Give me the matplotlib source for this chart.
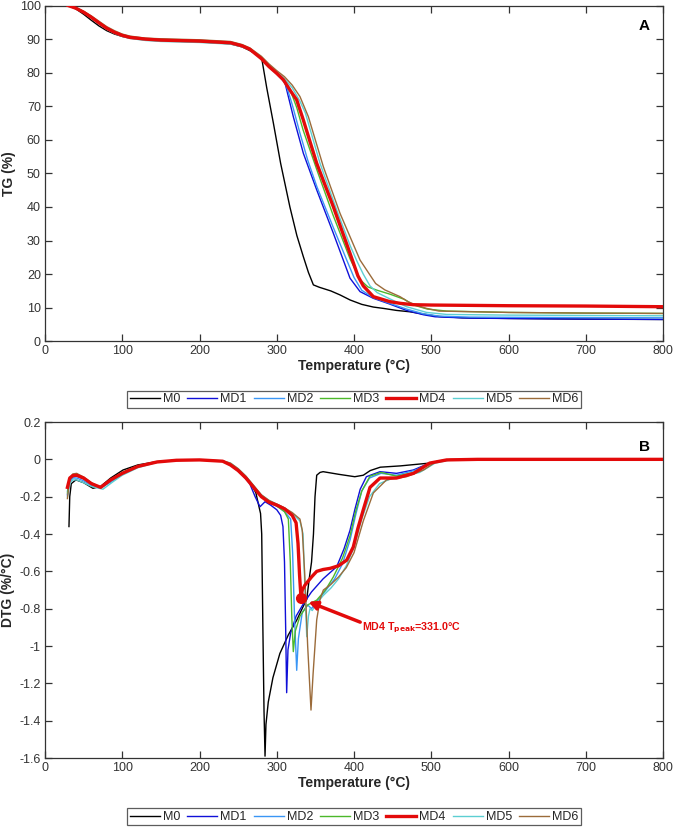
import matplotlib
matplotlib.use("Agg")
import matplotlib.pyplot as plt
from matplotlib.ticker import FuncFormatter

plt.rcParams['font.family'] = ['Liberation Sans', 'DejaVu Sans']
plt.rcParams['axes.unicode_minus'] = False

series_names = ["M0", "MD1", "MD2", "MD3", "MD4", "MD5", "MD6"]
series_colors = ["#000000", "#1010D8", "#3A96F5", "#4CB82A", "#E30A0A", "#5CCFD2", "#9B6B3A"]
series_widths = [1.0, 1.0, 1.0, 1.0, 2.4, 1.0, 1.0]

x_ticks = [0, 100, 200, 300, 400, 500, 600, 700, 800]
tg_ticks = [0, 10, 20, 30, 40, 50, 60, 70, 80, 90, 100]
dtg_ticks = [0.2, 0, -0.2, -0.4, -0.6, -0.8, -1, -1.2, -1.4, -1.6]

# ---------------- TG (%) ----------------
m0_tg_t = [30, 40, 50, 60, 70, 80, 90, 100, 110, 130, 150, 200, 240, 255, 265, 275, 280.5, 287, 295.6, 305, 317, 326, 334.4, 341, 347.4, 355, 370, 382, 395, 410, 425, 438, 455, 472, 490, 510, 540, 600, 700, 800]
m0_tg   = [100, 99.0, 97.4, 95.6, 93.9, 92.5, 91.5, 90.8, 90.3, 89.8, 89.5, 89.2, 88.6, 87.7, 86.6, 85.3, 84.3, 75.5, 65.0, 53.0, 40.0, 31.5, 25.2, 20.5, 16.8, 16.1, 15.0, 13.8, 12.3, 11.0, 10.2, 9.8, 9.2, 8.8, 8.1, 7.4, 7.0, 6.8, 6.6, 6.5]

md1_tg_t = [30, 40, 50, 60, 70, 80, 90, 100, 110, 130, 150, 200, 240, 255, 265, 280, 290, 300, 306, 310.7, 321.4, 334.4, 351.7, 373.2, 394.8, 407.8, 425, 445, 468, 490, 505, 550, 650, 800]
md1_tg   = [100, 99.2, 98.0, 96.5, 94.8, 93.2, 92.0, 91.1, 90.5, 90.0, 89.7, 89.4, 88.9, 88.0, 87.0, 84.2, 81.8, 79.6, 78.2, 76.9, 66.9, 56.0, 45.1, 32.2, 18.8, 14.8, 12.8, 11.2, 9.2, 7.9, 7.3, 6.9, 6.7, 6.5]

md2_tg_t = [30, 40, 50, 60, 70, 80, 90, 100, 110, 130, 150, 200, 240, 255, 265, 280, 290, 300, 310, 314, 320, 330, 340, 352, 373, 390, 400, 410, 425, 445, 468, 490, 510, 550, 650, 800]
md2_tg   = [100, 99.2, 98.0, 96.5, 94.8, 93.2, 92.0, 91.0, 90.4, 89.8, 89.5, 89.2, 88.7, 87.9, 86.9, 84.2, 81.8, 79.6, 77.3, 75.0, 70.5, 62.0, 54.0, 46.0, 34.0, 24.5, 19.0, 15.2, 13.0, 11.4, 9.6, 8.2, 7.5, 7.2, 7.1, 7.0]

md3_tg_t = [30, 40, 50, 60, 70, 80, 90, 100, 110, 130, 150, 200, 240, 255, 265, 280, 290, 300, 310, 318, 326, 334, 352, 373, 395, 408, 418, 430, 447, 465, 477, 495, 520, 600, 700, 800]
md3_tg   = [100, 99.3, 98.2, 96.7, 95.0, 93.4, 92.2, 91.3, 90.7, 90.1, 89.9, 89.6, 89.1, 88.2, 87.2, 84.5, 82.1, 80.0, 77.5, 74.5, 69.5, 63.0, 51.0, 37.5, 24.5, 18.3, 16.2, 15.2, 14.0, 12.5, 10.8, 9.6, 9.0, 8.6, 8.4, 8.3]

md4_tg_t = [30, 40, 50, 60, 70, 80, 90, 100, 110, 130, 150, 200, 240, 255, 265, 280, 290, 300, 308.5, 318, 325.8, 334.4, 351.7, 373.2, 394.8, 405, 412, 425, 446.6, 460, 477, 500, 600, 700, 800]
md4_tg   = [100, 99.2, 98.0, 96.5, 94.8, 93.2, 92.0, 91.1, 90.5, 90.0, 89.7, 89.4, 88.9, 88.0, 87.0, 84.2, 81.8, 79.8, 77.9, 74.5, 71.9, 65.9, 53.0, 40.1, 26.2, 19.5, 16.5, 13.3, 11.8, 11.3, 10.9, 10.8, 10.6, 10.5, 10.3]

md5_tg_t = [30, 40, 50, 60, 70, 80, 90, 100, 110, 130, 150, 200, 240, 255, 265, 280, 290, 300, 310, 320, 330, 337, 356, 377.6, 395, 403.5, 412, 420.7, 430, 445, 468, 494, 520, 600, 700, 800]
md5_tg   = [100, 99.1, 97.9, 96.3, 94.5, 92.9, 91.7, 90.8, 90.2, 89.6, 89.3, 89.0, 88.5, 87.7, 86.8, 84.4, 82.1, 80.2, 78.2, 75.5, 71.5, 68.0, 53.0, 39.1, 28.5, 24.0, 20.0, 16.5, 14.5, 12.8, 10.3, 8.6, 8.0, 7.8, 7.7, 7.6]

md6_tg_t = [30, 40, 50, 60, 70, 80, 90, 100, 110, 130, 150, 200, 240, 255, 265, 280, 290, 300, 310, 320, 330, 340.9, 360.3, 381.9, 407.8, 428, 440, 459.5, 470, 482, 494, 510, 600, 700, 800]
md6_tg   = [100, 99.4, 98.3, 96.9, 95.3, 93.7, 92.5, 91.5, 90.9, 90.3, 90.1, 89.8, 89.3, 88.4, 87.4, 84.9, 82.6, 80.6, 78.8, 76.3, 72.9, 66.9, 52.0, 38.1, 24.2, 17.2, 15.3, 13.3, 11.8, 10.6, 9.8, 9.0, 8.6, 8.4, 8.3]

# ---------------- DTG (%/°C) ----------------
m0_dtg_t = [31, 32, 34, 40, 50, 62, 72, 85, 101, 120, 145, 170, 200, 230, 240, 250, 260, 268, 273, 276, 279, 280.5, 282, 283.5, 284.8, 286, 289, 295, 304, 315, 326, 334, 338.8, 342, 345, 347.5, 349.5, 351.7, 356, 360, 380, 401, 412, 421, 434, 460, 498, 520, 560, 800]
m0_dtg   = [-0.36, -0.2, -0.13, -0.11, -0.125, -0.155, -0.145, -0.1, -0.057, -0.03, -0.012, -0.005, -0.003, -0.01, -0.025, -0.06, -0.1, -0.14, -0.18, -0.236, -0.29, -0.4, -0.9, -1.35, -1.59, -1.42, -1.3, -1.17, -1.04, -0.94, -0.86, -0.79, -0.75, -0.64, -0.55, -0.4, -0.2, -0.085, -0.07, -0.066, -0.08, -0.093, -0.085, -0.06, -0.042, -0.035, -0.02, -0.005, 0.0, 0.0]

md1_dtg_t = [29, 32, 36, 41, 50, 60, 72, 85, 100, 120, 145, 170, 200, 230, 240, 255, 265, 272, 278.3, 284.8, 292, 300, 305, 308, 310, 311.5, 312.8, 314.5, 318, 325, 335, 345, 360, 377.6, 387, 394.8, 401, 408, 416, 433.7, 455, 476.8, 498, 520, 560, 800]
md1_dtg   = [-0.19, -0.12, -0.095, -0.09, -0.105, -0.13, -0.15, -0.12, -0.08, -0.04, -0.015, -0.005, -0.003, -0.01, -0.03, -0.08, -0.13, -0.2, -0.254, -0.227, -0.245, -0.27, -0.3, -0.36, -0.55, -0.9, -1.25, -1.02, -0.93, -0.84, -0.77, -0.71, -0.64, -0.575, -0.48, -0.38, -0.27, -0.16, -0.093, -0.066, -0.075, -0.057, -0.02, -0.004, 0.0, 0.0]

md2_dtg_t = [29, 32, 36, 41, 50, 60, 72, 85, 100, 120, 145, 170, 200, 230, 240, 250, 260, 270, 280, 290, 300, 310, 318, 320.5, 323, 325.8, 328, 333, 340, 345, 350, 360, 375, 385, 395, 402, 410, 420, 435, 455, 478, 500, 520, 560, 800]
md2_dtg   = [-0.17, -0.12, -0.1, -0.1, -0.115, -0.14, -0.155, -0.12, -0.08, -0.04, -0.015, -0.005, -0.003, -0.01, -0.03, -0.06, -0.1, -0.15, -0.2, -0.23, -0.25, -0.28, -0.32, -0.5, -0.85, -1.13, -0.96, -0.82, -0.78, -0.8, -0.77, -0.72, -0.64, -0.56, -0.43, -0.3, -0.17, -0.1, -0.075, -0.085, -0.06, -0.02, -0.003, 0.0, 0.0]

md3_dtg_t = [29, 32, 36, 41, 50, 60, 72, 85, 100, 120, 145, 170, 200, 230, 240, 250, 260, 270, 280, 290, 300, 310, 315, 317.5, 319.5, 321.4, 324, 330, 340, 351.7, 363, 373.2, 385, 394.8, 402, 410, 420.7, 435, 455, 478, 500, 520, 560, 800]
md3_dtg   = [-0.18, -0.11, -0.088, -0.085, -0.1, -0.13, -0.15, -0.11, -0.07, -0.035, -0.013, -0.005, -0.003, -0.01, -0.03, -0.06, -0.1, -0.15, -0.2, -0.23, -0.25, -0.28, -0.32, -0.55, -0.85, -1.03, -0.92, -0.84, -0.78, -0.754, -0.7, -0.63, -0.53, -0.41, -0.28, -0.17, -0.09, -0.07, -0.09, -0.07, -0.02, -0.003, 0.0, 0.0]

md4_dtg_t = [29, 32, 36, 41, 50, 60, 72, 85, 100, 120, 145, 170, 200, 230, 240, 250, 260, 270, 280, 290, 300, 310, 320, 325, 327.5, 329.5, 331.4, 333, 336.6, 345, 351.7, 360, 369, 380, 390.5, 399, 405, 412, 420.7, 433.7, 455, 477, 498, 520, 560, 800]
md4_dtg   = [-0.15, -0.1, -0.087, -0.085, -0.1, -0.13, -0.15, -0.11, -0.075, -0.038, -0.014, -0.005, -0.003, -0.01, -0.03, -0.06, -0.1, -0.15, -0.2, -0.23, -0.245, -0.265, -0.3, -0.34, -0.45, -0.62, -0.745, -0.7, -0.673, -0.63, -0.6, -0.59, -0.584, -0.57, -0.54, -0.47, -0.37, -0.27, -0.15, -0.1, -0.1, -0.075, -0.02, -0.003, 0.0, 0.0]

md5_dtg_t = [29, 32, 36, 41, 50, 60, 75, 88, 100, 120, 145, 170, 200, 230, 240, 250, 260, 270, 280, 290, 300, 310, 320, 330, 334, 336.5, 338.8, 341, 343, 346, 350, 360, 370, 380, 390, 400, 410, 420, 433, 450, 464, 485, 505, 525, 560, 800]
md5_dtg   = [-0.2, -0.13, -0.11, -0.11, -0.125, -0.145, -0.16, -0.12, -0.085, -0.045, -0.016, -0.006, -0.003, -0.008, -0.02, -0.05, -0.09, -0.14, -0.19, -0.22, -0.24, -0.26, -0.29, -0.33, -0.4, -0.7, -0.95, -0.84, -0.8, -0.81, -0.78, -0.73, -0.69, -0.64, -0.57, -0.47, -0.32, -0.2, -0.13, -0.1, -0.09, -0.07, -0.02, -0.003, 0.0, 0.0]

md6_dtg_t = [29, 32, 36, 41, 50, 60, 72, 85, 100, 120, 145, 170, 200, 230, 240, 250, 260, 270, 280, 290, 300, 310, 320, 330, 333, 336, 340, 344.3, 347, 351.7, 356, 360.3, 370, 380, 390, 400, 412, 425, 442, 468, 490, 507, 525, 560, 800]
md6_dtg   = [-0.21, -0.1, -0.078, -0.075, -0.095, -0.125, -0.15, -0.11, -0.075, -0.037, -0.014, -0.005, -0.003, -0.008, -0.02, -0.05, -0.09, -0.14, -0.19, -0.22, -0.24, -0.26, -0.285, -0.32, -0.38, -0.6, -1.0, -1.343, -1.15, -0.86, -0.75, -0.7, -0.67, -0.63, -0.58, -0.5, -0.33, -0.18, -0.11, -0.093, -0.057, -0.01, 0.0, 0.0, 0.0]

tg_t = [m0_tg_t, md1_tg_t, md2_tg_t, md3_tg_t, md4_tg_t, md5_tg_t, md6_tg_t]
tg_v = [m0_tg, md1_tg, md2_tg, md3_tg, md4_tg, md5_tg, md6_tg]
dtg_t = [m0_dtg_t, md1_dtg_t, md2_dtg_t, md3_dtg_t, md4_dtg_t, md5_dtg_t, md6_dtg_t]
dtg_v = [m0_dtg, md1_dtg, md2_dtg, md3_dtg, md4_dtg, md5_dtg, md6_dtg]

peak_t = 331.4
peak_v = -0.745
annot_text = "MD4 T$_{\\mathbf{peak}}$=331.0°C"

fig = plt.figure(figsize=(6.76, 8.27), dpi=100)
ax1 = fig.add_axes([0.0666, 0.5873, 0.9142, 0.406])
ax2 = fig.add_axes([0.0666, 0.0834, 0.9142, 0.4063])

fmt = FuncFormatter(lambda v, p: "%g" % round(v, 3))

def style(ax):
    for s in ax.spines.values():
        s.set_color("#333333")
        s.set_linewidth(0.9)
    ax.tick_params(direction="in", top=True, right=True, length=5, width=0.9,
                   colors="#333333", labelsize=9, labelcolor="#333333", pad=3)
    ax.set_xlim(0, 800)
    ax.set_xticks(x_ticks)
    ax.set_xlabel("Temperature (°C)", fontsize=10, fontweight="bold", color="#262626", labelpad=1)

for i in range(7):
    ax1.plot(tg_t[i], tg_v[i], color=series_colors[i], lw=series_widths[i], label=series_names[i],
             zorder=3 if i == 4 else 2)
style(ax1)
ax1.set_ylim(0, 100)
ax1.set_yticks(tg_ticks)
ax1.yaxis.set_major_formatter(fmt)
ax1.set_ylabel("TG (%)", fontsize=10, fontweight="bold", color="#262626", labelpad=3)
ax1.text(0.97, 0.94, "A", transform=ax1.transAxes, fontsize=11, fontweight="bold", ha="center", va="center")

for i in range(7):
    ax2.plot(dtg_t[i], dtg_v[i], color=series_colors[i], lw=series_widths[i], label=series_names[i],
             zorder=3 if i == 4 else 2)
style(ax2)
ax2.set_ylim(-1.6, 0.2)
ax2.set_yticks(dtg_ticks)
ax2.yaxis.set_major_formatter(fmt)
ax2.set_ylabel("DTG (%/°C)", fontsize=10, fontweight="bold", color="#262626", labelpad=3)
ax2.text(0.97, 0.927, "B", transform=ax2.transAxes, fontsize=11, fontweight="bold", ha="center", va="center")

ax2.plot([peak_t], [peak_v], "o", color="#E30A0A", ms=7, zorder=5)
ax2.annotate("", xy=(340.9, -0.763), xytext=(408, -0.872),
             arrowprops=dict(arrowstyle="-|>,head_length=0.5,head_width=0.25", color="#E30A0A", lw=2.5,
                             shrinkA=0, shrinkB=0), zorder=5)
ax2.text(410, -0.905, annot_text, color="#E30A0A", fontsize=7.7, fontweight="bold", ha="left", va="center")

for ax, yc in [(ax1, 0.5175), (ax2, 0.0121)]:
    h, l = ax.get_legend_handles_labels()
    leg = fig.legend(h, l, loc="center", bbox_to_anchor=(0.5237, yc), ncol=7, fontsize=9,
                     frameon=True, fancybox=False, edgecolor="#333333", handlelength=2.4,
                     handletextpad=0.25, columnspacing=0.55, borderpad=0.2, borderaxespad=0)
    leg.get_frame().set_linewidth(0.9)
    for t in leg.get_texts():
        t.set_color("#262626")

fig.savefig("out.png", dpi=100)
